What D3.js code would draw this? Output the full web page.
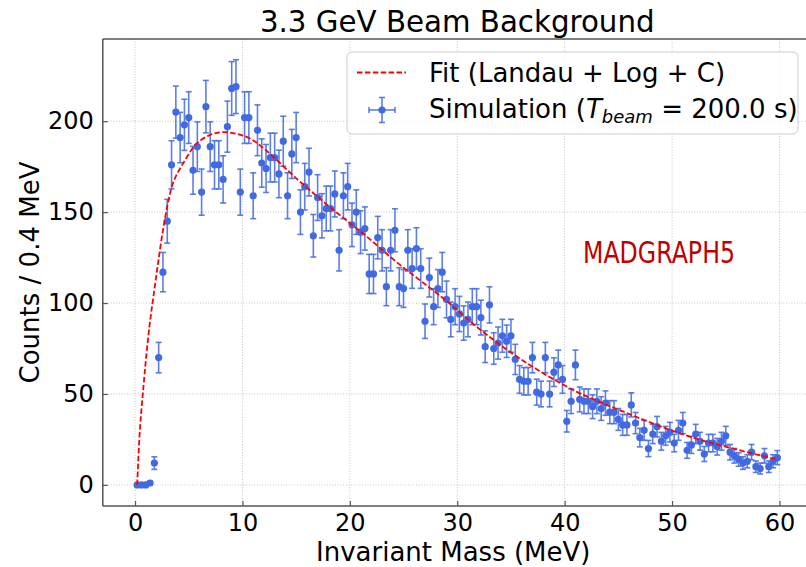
<!DOCTYPE html>
<html><head><meta charset="utf-8">
<script src="https://cdn.jsdelivr.net/npm/d3@7"></script>
<style>
html,body{margin:0;padding:0;background:#fff;}
svg{display:block;}
text{font-family:"DejaVu Sans",sans-serif;fill:#000;}
</style></head>
<body><svg id="chart" width="806" height="567"></svg>
<script>
// ---- data ----
const masses = [0.2,0.6,1.0,1.4,1.8,2.2,2.6,3.0,3.4,3.8,4.2,4.6,5.0,5.4,5.8,6.2,6.6,7.0,7.4,7.8,
8.2,8.6,9.0,9.4,9.8,10.2,10.6,11.0,11.4,11.8,12.2,12.6,13.0,13.4,13.8,14.2,14.6,15.0,15.4,15.8,
16.2,16.6,17.0,17.4,17.8,18.2,18.6,19.0,19.4,19.8,20.2,20.6,21.0,21.4,21.8,22.2,22.6,23.0,23.4,23.8,
24.2,24.6,25.0,25.4,25.8,26.2,26.6,27.0,27.4,27.8,28.2,28.6,29.0,29.4,29.8,30.2,30.6,31.0,31.4,31.8,
32.2,32.6,33.0,33.4,33.8,34.2,34.6,35.0,35.4,35.8,36.2,36.6,37.0,37.4,37.8,38.2,38.6,39.0,39.4,39.8,
40.2,40.6,41.0,41.4,41.8,42.2,42.6,43.0,43.4,43.8,44.2,44.6,45.0,45.4,45.8,46.2,46.6,47.0,47.4,47.8,
48.2,48.6,49.0,49.4,49.8,50.2,50.6,51.0,51.4,51.8,52.2,52.6,53.0,53.4,53.8,54.2,54.6,55.0,55.4,55.8,
56.2,56.6,57.0,57.4,57.8,58.2,58.6,59.0,59.4,59.8];
const counts = [0,0,0,1,12,70,117,145,176,205,191,198,202,173,186,161,208,186,176,176,
168,197,218,219,161,202,202,159,195,177,174,180,180,171,189,159,182,191,150,164,
172,137,158,148,152,152,160,129,159,164,143,150,139,141,116,116,136,129,109,129,
140,109,108,129,119,130,119,90,114,98,108,117,102,91,98,94,89,91,98,98,
92,76,99,75,78,82,79,82,69,58,57,57,70,51,50,70,50,62,66,58,
35,46,66,47,46,46,43,46,42,45,40,40,36,33,33,44,34,26,30,20,
28,32,24,27,29,23,30,34,19,22,28,24,17,23,23,21,24,27,18,16,
14,12,13,18,10,9,16,10,13,15];
const binHalfWidth = 0.2;
const fitX = [0.2,0.45,0.8,1.1,1.4,1.7,2.1,2.6,3.1,3.6,4.6,5.7,7.0,8.2,9.5,10.7,12.0,15.2,18.3,21.4,24.5,28.7,31.8,34.9,38.0,41.1,43.5,46.0,49.0,52.1,55.2,59.3,59.8];
const fitY = [0,30,55,74,90,103,120,140,156,167,178,187.5,192.5,194,193,190.5,185,167.6,152,137.4,121.8,102.6,87,73.2,61.4,51.3,45,39,32,25.7,20.7,14.7,14.2];
const xTicks = [0,10,20,30,40,50,60];
const yTicks = [0,50,100,150,200];
const titleText = "3.3 GeV Beam Background";
const xLabel = "Invariant Mass (MeV)";
const yLabel = "Counts / 0.4 MeV";
const fitLabel = "Fit (Landau + Log + C)";
const generatorLabel = "MADGRAPH5";

// ---- layout ----
const svg = d3.select("#chart");
const L = 102.8, R = 811.7, T = 39, B = 506;
const x = d3.scaleLinear().domain([-3, 63]).range([L, R]);
const y = d3.scaleLinear().domain([-11.6, 245.2]).range([B, T]);
const blue = "#4169e1";

// grid
const grid = svg.append("g");
grid.selectAll("line.gx").data(xTicks).join("line")
  .attr("x1", d => x(d)).attr("x2", d => x(d)).attr("y1", T).attr("y2", B)
  .attr("stroke", "#c4c4c4").attr("stroke-width", 1).attr("stroke-dasharray", "1,1.7");
grid.selectAll("line.gy").data(yTicks).join("line")
  .attr("x1", L).attr("x2", R).attr("y1", d => y(d)).attr("y2", d => y(d))
  .attr("stroke", "#c4c4c4").attr("stroke-width", 1).attr("stroke-dasharray", "1,1.7");

// axes
const xAxis = d3.axisBottom(x).tickValues(xTicks).tickSizeInner(-5).tickSizeOuter(0).tickPadding(8);
const yAxis = d3.axisLeft(y).tickValues(yTicks).tickSizeInner(-5).tickSizeOuter(0).tickPadding(9);
const gx = svg.append("g").attr("transform", `translate(0,${B})`).call(xAxis);
const gy = svg.append("g").attr("transform", `translate(${L},0)`).call(yAxis);
[gx, gy].forEach(g => {
  g.select(".domain").remove();
  g.selectAll(".tick line").attr("stroke", "#555").attr("stroke-width", 1.2);
  g.selectAll(".tick text").attr("font-family", "DejaVu Sans").attr("font-size", 24).attr("fill", "#000");
});
// spines
svg.append("line").attr("x1", L).attr("x2", L).attr("y1", T).attr("y2", B).attr("stroke", "#555").attr("stroke-width", 1.5);
svg.append("line").attr("x1", L).attr("x2", R).attr("y1", B).attr("y2", B).attr("stroke", "#555").attr("stroke-width", 1.5);
svg.append("line").attr("x1", L).attr("x2", R).attr("y1", T).attr("y2", T).attr("stroke", "#555").attr("stroke-width", 1.5);
svg.append("line").attr("x1", R).attr("x2", R).attr("y1", T).attr("y2", B).attr("stroke", "#555").attr("stroke-width", 1.5);

// data points with error bars
const pts = masses.map((m, i) => ({m, c: counts[i], e: Math.sqrt(counts[i])}));
const eb = svg.append("g").attr("stroke", blue).attr("stroke-opacity", 0.85).attr("stroke-width", 1.6);
pts.forEach(p => {
  if (p.e > 0) {
    eb.append("line").attr("x1", x(p.m)).attr("x2", x(p.m)).attr("y1", y(p.c - p.e)).attr("y2", y(p.c + p.e));
    eb.append("line").attr("x1", x(p.m) - 3).attr("x2", x(p.m) + 3).attr("y1", y(p.c - p.e)).attr("y2", y(p.c - p.e));
    eb.append("line").attr("x1", x(p.m) - 3).attr("x2", x(p.m) + 3).attr("y1", y(p.c + p.e)).attr("y2", y(p.c + p.e));
  }
  eb.append("line").attr("x1", x(p.m - binHalfWidth)).attr("x2", x(p.m + binHalfWidth)).attr("y1", y(p.c)).attr("y2", y(p.c));
});
svg.append("g").selectAll("circle").data(pts).join("circle")
  .attr("cx", d => x(d.m)).attr("cy", d => y(d.c)).attr("r", 3.6).attr("fill", blue);

// fit curve
const fitPts = fitX.map((v, i) => [v, fitY[i]]);
svg.append("path").datum(fitPts)
  .attr("d", d3.line().x(d => x(d[0])).y(d => y(d[1])).curve(d3.curveCatmullRom.alpha(0.5)))
  .attr("fill", "none").attr("stroke", "#ff0000").attr("stroke-width", 1.8).attr("stroke-dasharray", "5.5,2.4");

// MADGRAPH5 label
svg.append("text").attr("x", 583).attr("y", 263).text(generatorLabel)
  .attr("font-family", "Liberation Sans Narrow, Liberation Sans, Arial, sans-serif")
  .attr("font-size", 31).attr("fill", "#c00000").style("fill", "#c00000")
  .attr("textLength", 152).attr("lengthAdjust", "spacingAndGlyphs");

// title and labels
svg.append("text").attr("x", (L + R) / 2).attr("y", 32).attr("text-anchor", "middle")
  .attr("font-size", 29.3).text(titleText);
svg.append("text").attr("x", (L + R) / 2 - 4).attr("y", 561).attr("text-anchor", "middle")
  .attr("font-size", 26).text(xLabel);
svg.append("text").attr("transform", `translate(39,${(T + B) / 2}) rotate(-90)`).attr("text-anchor", "middle")
  .attr("font-size", 26).text(yLabel);

// legend
const lg = svg.append("g");
lg.append("rect").attr("x", 347).attr("y", 52).attr("width", 451).attr("height", 82).attr("rx", 5)
  .attr("fill", "#fff").attr("fill-opacity", 0.8).attr("stroke", "#cccccc").attr("stroke-width", 1);
lg.append("line").attr("x1", 357).attr("x2", 406).attr("y1", 72.5).attr("y2", 72.5)
  .attr("stroke", "#ff0000").attr("stroke-width", 1.8).attr("stroke-dasharray", "5.5,2.4");
lg.append("text").attr("x", 429).attr("y", 82).attr("font-size", 26).text(fitLabel);
const mx = 382, my = 110;
const lm = lg.append("g").attr("stroke", blue).attr("stroke-opacity", 0.85).attr("stroke-width", 1.6);
lm.append("line").attr("x1", mx).attr("x2", mx).attr("y1", my - 12.5).attr("y2", my + 12.5);
lm.append("line").attr("x1", mx - 13).attr("x2", mx + 13).attr("y1", my).attr("y2", my);
lm.append("line").attr("x1", mx - 3).attr("x2", mx + 3).attr("y1", my - 12.5).attr("y2", my - 12.5);
lm.append("line").attr("x1", mx - 3).attr("x2", mx + 3).attr("y1", my + 12.5).attr("y2", my + 12.5);
lm.append("line").attr("x1", mx - 13).attr("x2", mx - 13).attr("y1", my - 3).attr("y2", my + 3);
lm.append("line").attr("x1", mx + 13).attr("x2", mx + 13).attr("y1", my - 3).attr("y2", my + 3);
lg.append("circle").attr("cx", mx).attr("cy", my).attr("r", 3.6).attr("fill", blue);
const st = lg.append("text").attr("x", 429).attr("y", 117.5).attr("font-size", 26);
st.append("tspan").text("Simulation (");
st.append("tspan").attr("font-style", "italic").text("T");
st.append("tspan").attr("font-style", "italic").attr("font-size", 18).attr("dy", 5).text("beam");
st.append("tspan").attr("dy", -5).text(" = 200.0 s)");
</script></body></html>
